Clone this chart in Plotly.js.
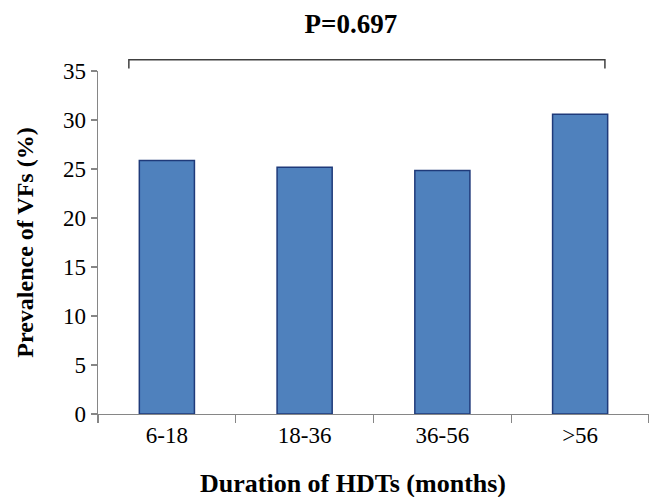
<!DOCTYPE html>
<html>
<head>
<meta charset="utf-8">
<script src="https://cdn.plot.ly/plotly-3.0.1.min.js"></script>
<style>html,body{margin:0;padding:0;background:#fff;}#chart{width:649px;height:497px;}</style>
</head>
<body>
<div id="chart"></div>
<script>
const categories = ["6-18", "18-36", "36-56", ">56"];
const prevalence = [25.86, 25.18, 24.84, 30.58];
const yTicks = [0, 5, 10, 15, 20, 25, 30, 35];
const pLabel = "P=0.697";
const xTitle = "Duration of HDTs (months)";
const yTitle = "Prevalence of VFs (%)";

const serif = "Liberation Serif";

const trace = {
  type: "bar",
  x: categories,
  y: prevalence,
  marker: { color: "#4F81BD", line: { color: "#1F3A7A", width: 1.5 } },
  hoverinfo: "none"
};

const layout = {
  width: 649, height: 497,
  margin: { l: 98, r: 0, t: 71, b: 83, pad: 0 },
  paper_bgcolor: "#ffffff", plot_bgcolor: "#ffffff",
  showlegend: false,
  bargap: 0.6,
  font: { family: serif, color: "#000000", size: 23 },
  title: {
    text: "<b>" + pLabel + "</b>",
    font: { family: serif, size: 27, color: "#000" },
    xref: "paper", x: 0.459, xanchor: "center",
    yref: "container", y: 0.953, yanchor: "middle"
  },
  xaxis: {
    type: "category",
    showline: true, linecolor: "#868686", linewidth: 1.3,
    showgrid: false, zeroline: false,
    ticks: "outside", tickson: "boundaries", ticklen: 8, tickcolor: "#868686", tickwidth: 1.3,
    tickfont: { family: serif, size: 23, color: "#000" },
    fixedrange: true
  },
  yaxis: {
    range: [0, 35],
    tickmode: "array",
    tickvals: yTicks,
    ticktext: yTicks.map(String),
    showline: true, linecolor: "#868686", linewidth: 1.3,
    showgrid: false, zeroline: false,
    ticks: "outside", ticklen: 6, tickcolor: "#868686", tickwidth: 1.3,
    tickfont: { family: serif, size: 23, color: "#000" },
    title: { text: "<b>" + yTitle + "</b>", font: { family: serif, size: 24, color: "#000" }, standoff: 22 },
    fixedrange: true
  },
  annotations: [
    {
      text: "<b>" + xTitle + "</b>",
      xref: "paper", yref: "paper",
      x: 0.463, y: -0.204, xanchor: "center", yanchor: "middle",
      showarrow: false,
      font: { family: serif, size: 26, color: "#000" }
    }
  ],
  shapes: [
    {
      type: "path",
      xref: "paper", yref: "paper",
      path: "M 0.056 1.007 L 0.056 1.033 L 0.920 1.033 L 0.920 1.007",
      line: { color: "#404040", width: 1.5 }
    }
  ]
};

Plotly.newPlot("chart", [trace], layout, { staticPlot: true, displayModeBar: false });
</script>
</body>
</html>
